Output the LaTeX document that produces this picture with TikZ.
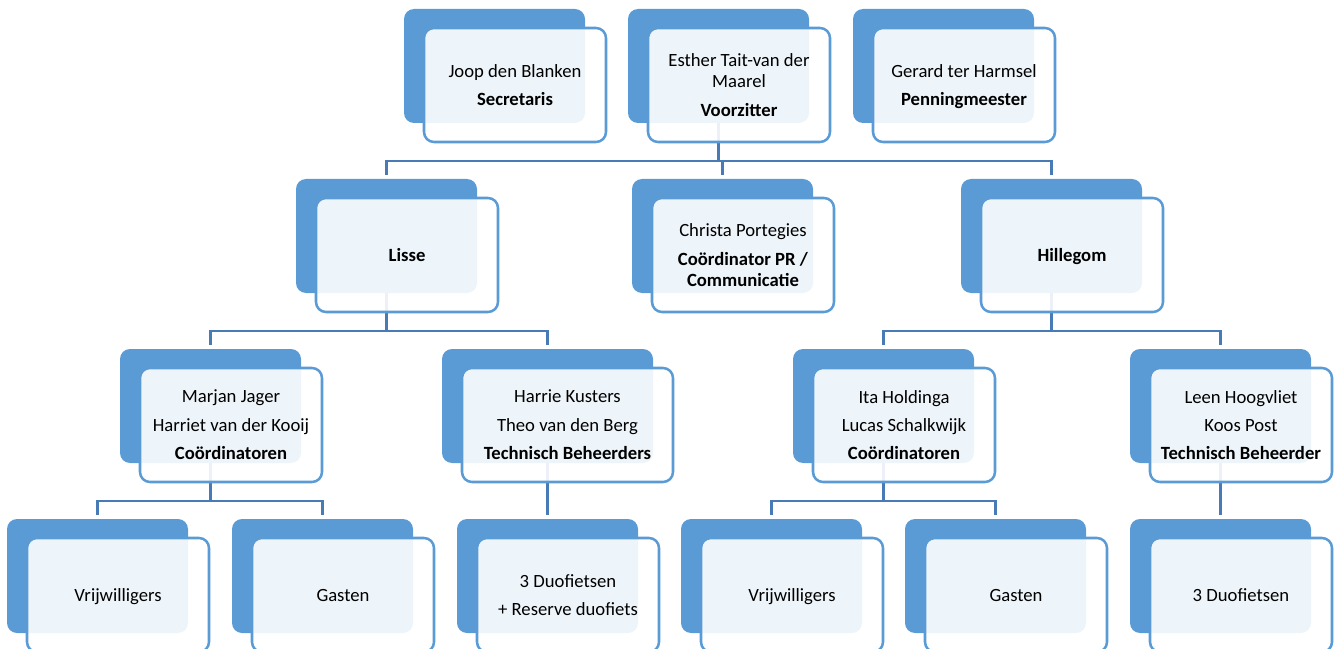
\documentclass[tikz,border=0pt]{standalone}
\usepackage{fontspec}
\setmainfont{Carlito}
\definecolor{bblue}{RGB}{91,155,213}
\definecolor{cblue}{RGB}{72,122,182}
\tikzset{
  backbox/.style={fill=bblue, rounded corners=7.5pt, minimum width=135.75pt, minimum height=85.5pt, inner sep=0pt, outer sep=0pt, anchor=north west},
  frontbox/.style={draw=bblue, line width=1.9pt, fill=white, fill opacity=0.9, text opacity=1, rounded corners=7.5pt, minimum width=136.5pt, minimum height=85.5pt, inner sep=0pt, outer sep=0pt, anchor=north west, align=center, text depth=0pt, font=\fontsize{14pt}{15.75pt}\selectfont},
  widebox/.style={minimum width=158.25pt},
  conn/.style={draw=cblue, line width=2.2pt},
  childend/.style={shorten >=3pt}
}
\newcommand{\gp}{\\[5.6pt]}
\begin{document}
\begin{tikzpicture}[x=0.75pt,y=-0.75pt]
\useasboundingbox (0,0) rectangle (1336,649);
\clip (0,0) rectangle (1336,649);
% back boxes
\node[backbox] (secB) at (404,9) {};
\node[backbox] (voorB) at (628,9) {};
\node[backbox] (penB) at (853,9) {};
\node[backbox] (lisseB) at (296,179) {};
\node[backbox] (chrB) at (632,179) {};
\node[backbox] (hilB) at (961,179) {};
\node[backbox] (marB) at (120,349) {};
\node[backbox, widebox] (harB) at (442,349) {};
\node[backbox] (itaB) at (793,349) {};
\node[backbox] (leenB) at (1130,349) {};
\node[backbox] (vrijaB) at (7,519) {};
\node[backbox] (gasaB) at (232,519) {};
\node[backbox] (duoaB) at (457,519) {};
\node[backbox] (vrijbB) at (681,519) {};
\node[backbox] (gasbB) at (905,519) {};
\node[backbox] (duobB) at (1130,519) {};
% bar levels
\coordinate (bar1) at (0,161);
\coordinate (bar2) at (0,331);
\coordinate (bar3) at (0,501);
% connectors
\foreach \c in {lisseB,chrB,hilB}
  \draw[conn, childend] (voorB.south) -- (voorB.south |- bar1) -| (\c.north);
\foreach \c in {marB,harB}
  \draw[conn, childend] (lisseB.south) -- (lisseB.south |- bar2) -| (\c.north);
\foreach \c in {itaB,leenB}
  \draw[conn, childend] (hilB.south) -- (hilB.south |- bar2) -| (\c.north);
\foreach \c in {vrijaB,gasaB}
  \draw[conn, childend] (marB.south) -- (marB.south |- bar3) -| (\c.north);
\foreach \c in {vrijbB,gasbB}
  \draw[conn, childend] (itaB.south) -- (itaB.south |- bar3) -| (\c.north);
\draw[conn, childend] (harB.south) -- (harB.south |- duoaB.north);
\draw[conn, childend] (leenB.south) -- (leenB.south |- duobB.north);
% front boxes
\node[frontbox] (sec) at (424,28) {Joop den Blanken\gp\textbf{Secretaris}};
\node[frontbox] (voor) at (648,28) {Esther Tait-van der\\Maarel\gp\textbf{Voorzitter}};
\node[frontbox] (pen) at (873,28) {Gerard ter Harmsel\gp\textbf{Penningmeester}};
\node[frontbox] (lisse) at (316,198) {\textbf{Lisse}};
\node[frontbox] (chr) at (652,198) {Christa Portegies\gp\textbf{Coördinator PR /}\\\textbf{Communicatie}};
\node[frontbox] (hil) at (981,198) {\textbf{Hillegom}};
\node[frontbox] (mar) at (140,368) {Marjan Jager\gp Harriet van der Kooij\gp\textbf{Coördinatoren}};
\node[frontbox, widebox] (har) at (462,368) {Harrie Kusters\gp Theo van den Berg\gp\textbf{Technisch Beheerders}};
\node[frontbox] (ita) at (813,368) {Ita Holdinga\gp Lucas Schalkwijk\gp\textbf{Coördinatoren}};
\node[frontbox] (leen) at (1150,368) {Leen Hoogvliet\gp Koos Post\gp\textbf{Technisch Beheerder}};
\node[frontbox] (vrija) at (27,538) {Vrijwilligers};
\node[frontbox] (gasa) at (252,538) {Gasten};
\node[frontbox] (duoa) at (477,538) {3 Duofietsen\gp + Reserve duofiets};
\node[frontbox] (vrijb) at (701,538) {Vrijwilligers};
\node[frontbox] (gasb) at (925,538) {Gasten};
\node[frontbox] (duob) at (1150,538) {3 Duofietsen};
\end{tikzpicture}
\end{document}
